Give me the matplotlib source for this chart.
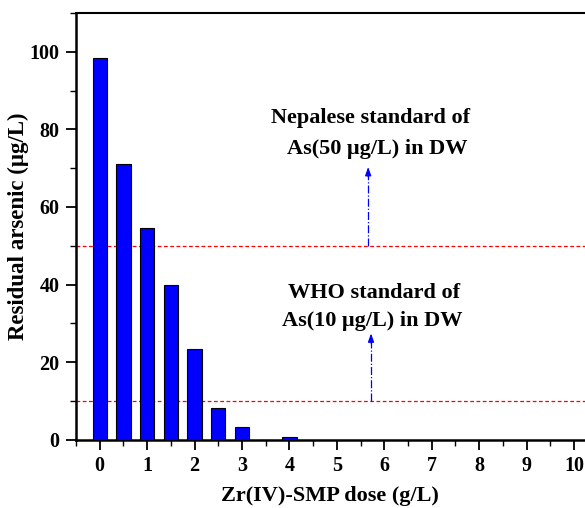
import matplotlib
matplotlib.use("Agg")
import matplotlib.pyplot as plt
from matplotlib.ticker import MultipleLocator

dose = [0, 0.5, 1, 1.5, 2, 2.5, 3, 3.5, 4]
residual = [98.4, 71.1, 54.6, 39.9, 23.4, 8.1, 3.2, 0.0, 0.8]
nepal_std = 50
who_std = 10
xticks = list(range(0, 11))
yticks = [0, 20, 40, 60, 80, 100]

plt.rcParams['font.family'] = ['Liberation Serif', 'DejaVu Serif']
plt.rcParams['font.weight'] = 'bold'

fig = plt.figure(figsize=(5.85, 5.08), dpi=100)
ax = fig.add_axes([0.1299, 0.1344, 1.0218 - 0.1299, 0.9744 - 0.1344])

ax.bar(dose, residual, width=0.3, color='#0000ff', edgecolor='black', linewidth=0.8, zorder=3)

ax.axhline(nepal_std, color='red', linestyle=(0, (3, 2)), linewidth=0.9, zorder=2)
ax.axhline(who_std, color='red', linestyle=(0, (3, 2)), linewidth=0.9, zorder=2)

# arrows
for xa, y0, y1 in [(5.66, nepal_std, 70.3), (5.72, who_std, 27.4)]:
    ax.plot([xa, xa], [y0, y1 - 1.5], color='blue', linestyle='-.', linewidth=0.9, zorder=4)
    ax.annotate('', xy=(xa, y1), xytext=(xa, y1 - 2.5),
                arrowprops=dict(arrowstyle='-|>,head_length=0.5,head_width=0.18',
                                color='blue', lw=0.9, shrinkA=0, shrinkB=0))

tkw = dict(ha='center', va='center', fontsize=16, fontweight='bold')
ax.text(5.72, 83.0, 'Nepalese standard of', **tkw)
ax.text(5.85, 75.0, 'As(50 μg/L) in DW', **tkw)
ax.text(5.79, 37.8, 'WHO standard of', **tkw)
ax.text(5.75, 30.6, 'As(10 μg/L) in DW', **tkw)

ax.set_xlim(-0.5, 10.5)
ax.set_ylim(0, 110)
ax.set_xticks(xticks)
ax.set_yticks(yticks)
ax.xaxis.set_minor_locator(MultipleLocator(0.5))
ax.yaxis.set_minor_locator(MultipleLocator(10))
ax.tick_params(axis='both', which='major', direction='out', length=7, width=1.3, labelsize=14.5)
ax.tick_params(axis='both', which='minor', direction='out', length=4, width=1.0)
ax.tick_params(axis='x', pad=5)
ax.tick_params(axis='y', pad=5)
for lab in ax.get_xticklabels() + ax.get_yticklabels():
    lab.set_fontweight('bold')

ax.spines['left'].set_linewidth(1.8)
ax.spines['bottom'].set_linewidth(1.8)
ax.spines['top'].set_linewidth(1.5)
ax.spines['right'].set_visible(False)

ax.set_xlabel('Zr(IV)-SMP dose (g/L)', fontsize=16, fontweight='bold')
ax.set_ylabel('Residual arsenic (μg/L)', fontsize=16.5, fontweight='bold')
ax.xaxis.set_label_coords(0.487, -0.108)
ax.yaxis.set_label_coords(-0.09, 0.5)

fig.savefig('out.png', dpi=100)
